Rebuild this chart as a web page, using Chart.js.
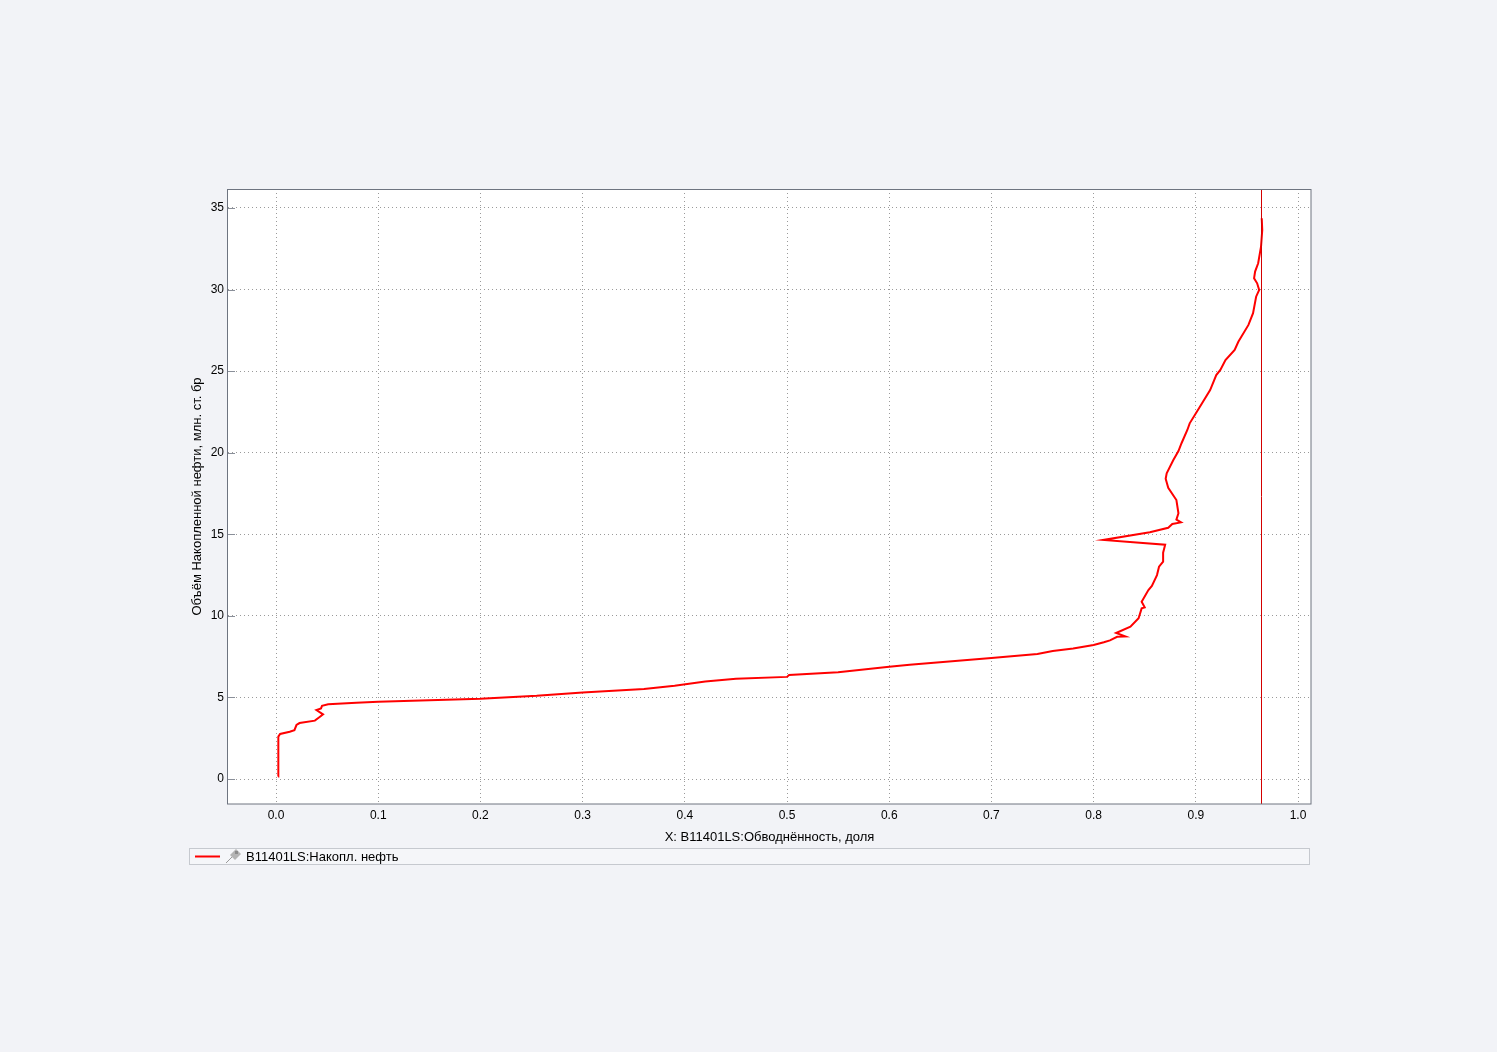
<!DOCTYPE html>
<html>
<head>
<meta charset="utf-8">
<script src="https://cdn.jsdelivr.net/npm/chart.js@4/dist/chart.umd.min.js"></script>
<style>
  html, body { margin: 0; padding: 0; background: #f2f3f7; }
  #wrap { width: 1497px; height: 1052px; }
</style>
</head>
<body>
<div id="wrap"><canvas id="c" width="1497" height="1052"></canvas></div>
<script>
// ---- data ----
const seriesLabel = 'B11401LS:Накопл. нефть';
const xTitle = 'X: B11401LS:Обводнённость, доля';
const yTitle = 'Объём Накопленной нефти, млн. ст. бр';
const waterCut = [
  0.002, 0.002, 0.0025, 0.004, 0.0134, 0.018, 0.020, 0.023, 0.038, 0.043,
  0.046, 0.0395, 0.044, 0.045, 0.051, 0.0786, 0.10, 0.20, 0.255, 0.30,
  0.36, 0.39, 0.42, 0.45, 0.50, 0.502, 0.55, 0.60, 0.62, 0.70,
  0.745, 0.76, 0.78, 0.80, 0.81, 0.816, 0.823, 0.831, 0.822, 0.836,
  0.844, 0.847, 0.850, 0.847, 0.8536, 0.857, 0.862, 0.864, 0.868, 0.868,
  0.870, 0.8095, 0.855, 0.873, 0.877, 0.8855, 0.881, 0.883, 0.881, 0.873,
  0.8705, 0.8715, 0.878, 0.883, 0.886, 0.8917, 0.894, 0.904, 0.914, 0.920,
  0.924, 0.929, 0.938, 0.9416, 0.9515, 0.956, 0.959, 0.962, 0.960, 0.957,
  0.958, 0.961, 0.9638, 0.965, 0.9645
];
const cumOil = [
  0.15, 1.2, 2.6, 2.76, 2.9, 3.0, 3.31, 3.43, 3.58, 3.82,
  3.96, 4.23, 4.33, 4.49, 4.58, 4.68, 4.74, 4.92, 5.1, 5.31,
  5.52, 5.72, 5.98, 6.15, 6.26, 6.37, 6.55, 6.88, 7.0, 7.42,
  7.66, 7.85, 8.0, 8.22, 8.38, 8.5, 8.72, 8.74, 8.95, 9.34,
  9.85, 10.46, 10.52, 10.87, 11.58, 11.83, 12.5, 13.01, 13.32, 13.87,
  14.36, 14.65, 15.12, 15.4, 15.63, 15.73, 15.9, 16.29, 17.1, 17.85,
  18.4, 18.74, 19.55, 20.1, 20.58, 21.39, 21.8, 22.82, 23.84, 24.76,
  25.07, 25.68, 26.3, 26.8, 27.83, 28.55, 29.56, 29.97, 30.38, 30.69,
  31.1, 31.61, 32.63, 33.65, 34.37
];
const markerX = 0.964;           // vertical cursor line
const xRange = [-0.047, 1.0127];
const yRange = [-1.53, 36.16];
const xStep = 0.1;
const yStep = 5;

const points = waterCut.map((x, i) => ({ x: x, y: cumOil[i] }));

const FONT = '"Liberation Sans", Arial, sans-serif';

const decor = {
  id: 'decor',
  beforeDraw(chart) {
    const { ctx, chartArea: a } = chart;
    ctx.save();
    ctx.fillStyle = '#f2f3f7';
    ctx.fillRect(0, 0, chart.width, chart.height);
    ctx.fillStyle = '#ffffff';
    ctx.fillRect(a.left, a.top, a.right - a.left, a.bottom - a.top);
    ctx.restore();
  },
  afterDraw(chart) {
    const { ctx, chartArea: a, scales } = chart;
    ctx.save();
    // y tick marks (inside)
    ctx.strokeStyle = '#8a8f99';
    ctx.lineWidth = 1;
    scales.y.ticks.forEach(t => {
      const py = Math.round(scales.y.getPixelForValue(t.value)) + 0.5;
      ctx.beginPath(); ctx.moveTo(a.left, py); ctx.lineTo(a.left + 7, py); ctx.stroke();
    });
    // marker line
    const mx = Math.round(scales.x.getPixelForValue(markerX)) + 0.5;
    ctx.strokeStyle = '#d40000';
    ctx.beginPath(); ctx.moveTo(mx, a.top); ctx.lineTo(mx, a.bottom); ctx.stroke();
    // border
    ctx.strokeStyle = '#6e7480';
    ctx.strokeRect(Math.round(a.left) - 0.5, Math.round(a.top) + 0.5,
                   Math.round(a.right - a.left) + 0.5, Math.round(a.bottom - a.top) - 0.5);
    // legend box
    const lx = 189.5, ly = 848.5, lw = 1120, lh = 16;
    ctx.fillStyle = '#f5f6f9';
    ctx.fillRect(lx, ly, lw, lh);
    ctx.strokeStyle = '#c6c9cf';
    ctx.strokeRect(lx, ly, lw, lh);
    const cy = ly + lh / 2;
    ctx.strokeStyle = '#ff0000';
    ctx.lineWidth = 2;
    ctx.beginPath(); ctx.moveTo(195, cy); ctx.lineTo(220, cy); ctx.stroke();
    // pin icon
    ctx.lineWidth = 1;
    ctx.strokeStyle = '#9a9a9a';
    ctx.beginPath(); ctx.moveTo(226, 863); ctx.lineTo(232, 857); ctx.stroke();
    ctx.fillStyle = '#b4b4b4';
    ctx.beginPath();
    ctx.moveTo(230, 855); ctx.lineTo(236, 849); ctx.lineTo(241, 854); ctx.lineTo(235, 860);
    ctx.closePath(); ctx.fill();
    ctx.fillStyle = '#8c8c8c';
    ctx.fillRect(235, 851, 3, 3);
    // legend text
    ctx.fillStyle = '#000000';
    ctx.font = '13px ' + FONT;
    ctx.textBaseline = 'middle';
    ctx.textAlign = 'left';
    ctx.fillText(chart.data.datasets[0].label, 246, cy + 0.5);
    ctx.restore();
  }
};

new Chart(document.getElementById('c'), {
  type: 'scatter',
  data: {
    datasets: [{
      label: seriesLabel,
      data: points,
      showLine: true,
      borderColor: '#ff0000',
      backgroundColor: '#ff0000',
      borderWidth: 2,
      pointRadius: 0,
      tension: 0
    }]
  },
  options: {
    responsive: false,
    animation: false,
    devicePixelRatio: 1,
    layout: { padding: { left: 185, right: 186, top: 189, bottom: 203 } },
    plugins: { legend: { display: false }, tooltip: { enabled: false } },
    scales: {
      x: {
        type: 'linear',
        min: xRange[0], max: xRange[1],
        afterFit(s) { s.height = 45; },
        border: { display: false, dash: [1, 3] },
        grid: { color: '#9a9a9a', drawTicks: false, lineWidth: 1 },
        ticks: {
          stepSize: xStep, includeBounds: false, autoSkip: false, maxRotation: 0,
          padding: 4, color: '#000', font: { family: FONT, size: 12 },
          callback: v => Number(v).toFixed(1)
        },
        title: { display: true, text: xTitle, color: '#000', font: { family: FONT, size: 13 }, padding: { top: 4, bottom: 4 } }
      },
      y: {
        type: 'linear',
        min: yRange[0], max: yRange[1],
        afterFit(s) { s.width = 43; },
        border: { display: false, dash: [1, 3] },
        grid: { color: '#9a9a9a', drawTicks: false, lineWidth: 1 },
        ticks: {
          stepSize: yStep, includeBounds: false, autoSkip: false,
          padding: 4, color: '#000', font: { family: FONT, size: 12 },
          callback: v => String(Math.round(v))
        },
        title: { display: true, text: yTitle, color: '#000', font: { family: FONT, size: 13 }, padding: { top: 5, bottom: 4 } }
      }
    }
  },
  plugins: [decor]
});
</script>
</body>
</html>
